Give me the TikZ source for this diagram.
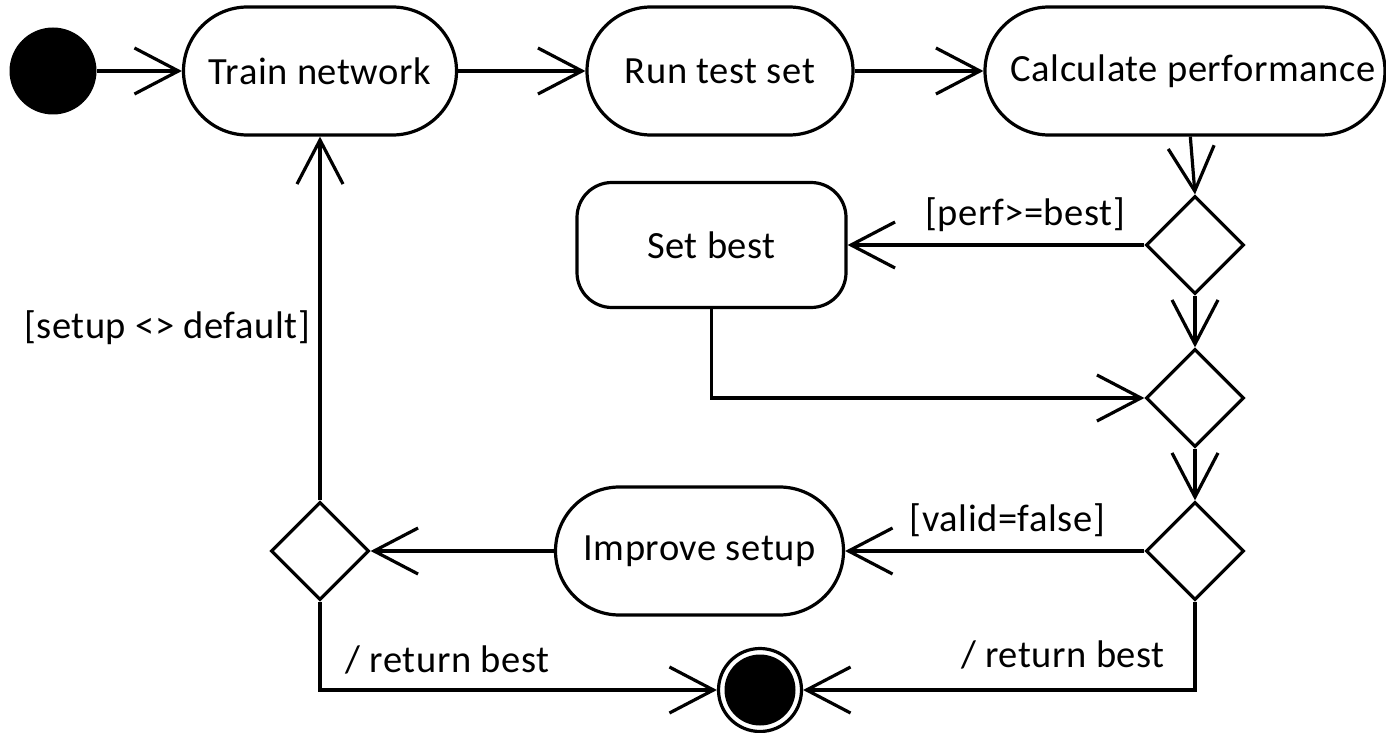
\documentclass[tikz,border=0pt]{standalone}
\usepackage{fontspec}
\setmainfont[LetterSpace=1.5]{Carlito}
\usetikzlibrary{shapes.geometric,arrows.meta}
\begin{document}
\begin{tikzpicture}[x=1pt,y=-1pt,
  every node/.style={font=\fontsize{38.5}{46}\selectfont},
  lw/.style={line width=3.2pt},
  act/.style={draw, lw, rectangle, rounded corners=64pt, minimum height=128pt, inner sep=0pt},
  dec/.style={draw, lw, diamond, minimum width=98pt, minimum height=98pt, inner sep=0pt},
  initst/.style={circle, fill=black, minimum size=87pt, inner sep=0pt},
  finst/.style={circle, draw, lw, minimum size=83pt, inner sep=0pt},
  finin/.style={circle, fill=black, minimum size=71pt, inner sep=0pt},
  arr/.style={lw, -{Straight Barb[length=44pt,width=46pt,line width=3.2pt]}},
  lbl/.style={inner sep=0pt}
]
\useasboundingbox (0,0) rectangle (1386,733);
\node[initst] (init) at (53,71) {};
\node[act, minimum width=273pt] (train) at (320,71) {Train network};
\node[act, minimum width=266pt] (run) at (720,71) {Run test set};
\node[act, minimum width=400pt] (calc) at (1185,71) {\hspace*{16pt}Calculate performance};
\node[dec] (d1) at (1195,245) {};
\node[act, rounded corners=35pt, minimum width=269pt, minimum height=125pt] (setb) at (711.5,245) {Set best};
\node[dec] (d2) at (1195,398) {};
\node[dec] (d3) at (1195,551) {};
\node[act, minimum width=288pt] (impr) at (699.5,551) {Improve setup};
\node[dec] (d4) at (320,551) {};
\node[finst] (final) at (760,690) {};
\node[finin] (finalin) at (final) {};

\draw[arr] (init) -- (train);
\draw[arr] (train) -- (run);
\draw[arr] (run) -- (calc);
\draw[arr] (calc) -- (d1.north);
\draw[arr] (d1) -- (setb);
\draw[arr] (d1) -- (d2);
\draw[arr] (setb) |- (d2);
\draw[arr] (d2) -- (d3);
\draw[arr] (d3) -- (impr);
\draw[arr] (impr) -- (d4);
\draw[arr] (d4) -- (train);
\draw[arr] (d4) |- (final);
\draw[arr] (d3) |- (final);

\node[lbl] (l1) at (1025,214.5) {[perf>=best]};
\node[lbl] (l2) at (1007.5,520) {[valid=false]};
\node[lbl] (l3) at (167,327.5) {[setup <> default]};
\node[lbl, anchor=base] (l4) at (447.5,672) {/ return best};
\node[lbl, anchor=base] (l5) at (1063,667) {/ return best};
\end{tikzpicture}
\end{document}
